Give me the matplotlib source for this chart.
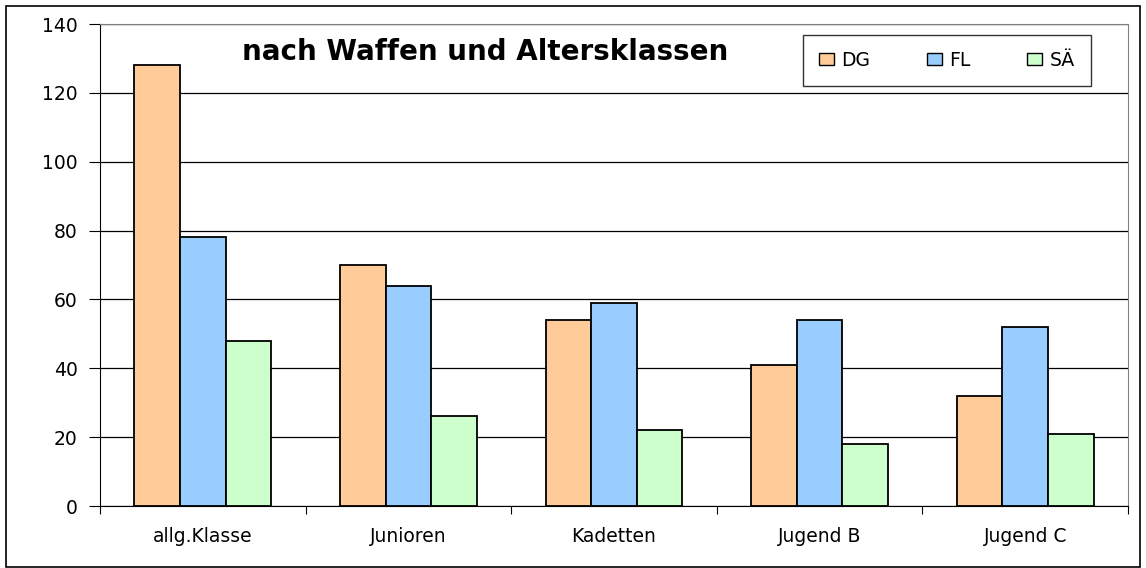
import numpy as np
import matplotlib.pyplot as plt
from matplotlib.patches import Rectangle

# Daten
kategorien = ["allg.Klasse", "Junioren", "Kadetten", "Jugend B", "Jugend C"]
dg = [128, 70, 54, 41, 32]
fl = [78, 64, 59, 54, 52]
sae = [48, 26, 22, 18, 21]
serien = ["DG", "FL", "SÄ"]
farben = ["#FFCC99", "#99CCFF", "#CCFFCC"]

plt.rcParams["font.family"] = ["DejaVu Sans"]

W, H = 1146, 568
fig = plt.figure(figsize=(W / 100, H / 100), dpi=100)
ax = fig.add_axes([100 / W, 1 - 506 / H, 1028 / W, 482 / H])

# aeusserer Rahmen
fig.patches.append(Rectangle((6 / W, 1 / H), 1134 / W, 1 - 7 / H, transform=fig.transFigure,
                             fill=False, edgecolor="black", linewidth=1.2))

x = np.arange(len(kategorien))
b = 0.222
for i, (werte, name, farbe) in enumerate(zip([dg, fl, sae], serien, farben)):
    ax.bar(x + (i - 1) * b, werte, b, color=farbe, edgecolor="black", linewidth=1.3,
           label=name, zorder=3)

ax.set_xlim(-0.5, len(kategorien) - 0.5)
ax.set_ylim(0, 140)
ax.set_yticks(np.arange(0, 141, 20))
ax.grid(axis="y", color="black", linewidth=0.9, zorder=0)

# Kategorie-Grenzen als Striche, Beschriftungen in der Mitte
ax.set_xticks(np.arange(-0.5, len(kategorien)), [])
ax.set_xticks(x, kategorien, minor=True)
ax.tick_params(axis="x", which="major", length=6, direction="out", color="black")
ax.tick_params(axis="x", which="minor", length=0, pad=15, labelsize=13.5)
ax.tick_params(axis="y", length=8, direction="out", pad=8, labelsize=13.5)

for s in ["top", "right"]:
    ax.spines[s].set_color("#808080")
for s in ["left", "bottom"]:
    ax.spines[s].set_color("black")

fig.text(485 / W, 1 - 52 / H, "nach Waffen und Altersklassen", ha="center", va="center",
         fontsize=20, fontweight="bold")

leg = ax.legend(ncol=3, loc="upper left", mode="expand",
                bbox_to_anchor=(803 / W, 1 - 85 / H, 288 / W, 50 / H),
                bbox_transform=fig.transFigure, borderaxespad=0, fontsize=13.5,
                frameon=True, fancybox=False, edgecolor="black",
                handlelength=0.8, handleheight=0.6, handletextpad=0.4,
                borderpad=0.85)
leg.get_frame().set_linewidth(1.0)
for h in leg.legend_handles:
    h.set_linewidth(1.0)

plt.savefig("out.png", dpi=100)
